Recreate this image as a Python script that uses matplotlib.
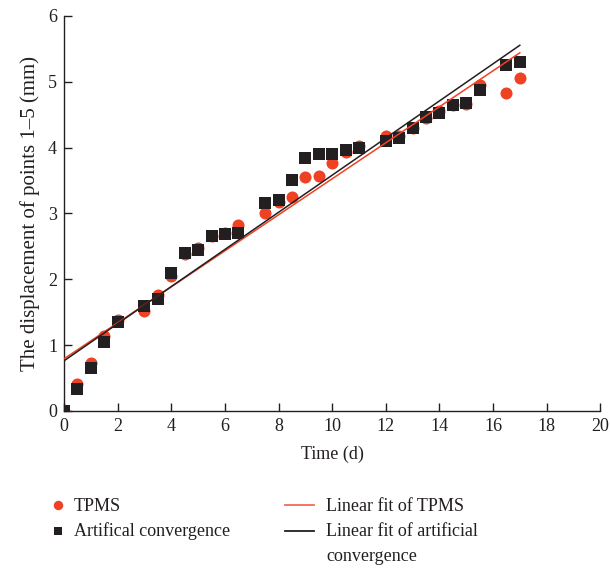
import matplotlib
matplotlib.use("Agg")
import matplotlib.pyplot as plt
from matplotlib.lines import Line2D
import numpy as np

plt.rcParams['font.family'] = ['Liberation Serif', 'DejaVu Serif']

time = [0, 0.5, 1, 1.5, 2, 3, 3.5, 4, 4.5, 5, 5.5, 6, 6.5, 7.5, 8, 8.5, 9, 9.5,
        10, 10.5, 11, 12, 12.5, 13, 13.5, 14, 14.5, 15, 15.5, 16.5, 17]
tpms = [0, 0.40, 0.72, 1.13, 1.38, 1.52, 1.76, 2.05, 2.38, 2.48, 2.65, 2.70, 2.82,
        3.00, 3.18, 3.25, 3.55, 3.57, 3.76, 3.93, 4.02, 4.18, 4.17, 4.30, 4.45,
        4.55, 4.65, 4.66, 4.95, 4.83, 5.05]
artificial = [0, 0.33, 0.65, 1.05, 1.35, 1.60, 1.70, 2.10, 2.40, 2.45, 2.65, 2.68,
              2.70, 3.16, 3.21, 3.50, 3.84, 3.90, 3.90, 3.97, 3.99, 4.10, 4.15,
              4.30, 4.46, 4.52, 4.65, 4.68, 4.87, 5.25, 5.30]
# linear fit coefficients (intercept, slope)
fit_tpms = (0.79, 0.2735)
fit_art = (0.76, 0.282)
fit_range = [0, 17]
labels = ['TPMS', 'Artifical convergence', 'Linear fit of TPMS',
          'Linear fit of artificial\nconvergence']

red = '#ef4123'
black = '#231f20'

W, H = 610, 569
fig = plt.figure(figsize=(W / 100, H / 100), dpi=100)
ax = fig.add_axes([0.105, 0.278, 0.879, 0.694])

ax.scatter(time, tpms, s=75, marker='o', color=red, zorder=3, linewidths=0)
ax.scatter(time, artificial, s=68, marker='s', color=black, zorder=4, linewidths=0)
xf = np.array(fit_range)
ax.plot(xf, fit_tpms[0] + fit_tpms[1] * xf, color=red, lw=1.1, zorder=5)
ax.plot(xf, fit_art[0] + fit_art[1] * xf, color=black, lw=1.1, zorder=5)

ax.set_xlim(0, 20)
ax.set_ylim(0, 6)
ax.set_xticks(range(0, 21, 2))
ax.set_yticks(range(0, 7))
for s in ['top', 'right']:
    ax.spines[s].set_visible(False)
for s in ['left', 'bottom']:
    ax.spines[s].set_color(black)
    ax.spines[s].set_linewidth(1.0)
ax.tick_params(direction='in', length=6, width=1.0, colors=black, labelsize=13, pad=5)
ax.set_xlabel('Time (d)', fontsize=13, color=black, labelpad=8)
ax.set_ylabel('The displacement of points 1–5 (mm)', fontsize=15, color=black, labelpad=6)

# manual legend (figure pixel coordinates)
def fx(px):
    return px / W

def fy(py):
    return 1 - py / H

fig.add_artist(Line2D([fx(58)], [fy(505)], marker='o', ls='none', color=red,
                      markersize=6.8, markeredgewidth=0, transform=fig.transFigure))
fig.add_artist(Line2D([fx(58)], [fy(531)], marker='s', ls='none', color=black,
                      markersize=5.2, markeredgewidth=0, transform=fig.transFigure))
fig.add_artist(Line2D([fx(285), fx(314)], [fy(505), fy(505)], color='#f26b55', lw=1.3,
                      transform=fig.transFigure))
fig.add_artist(Line2D([fx(285), fx(314)], [fy(531), fy(531)], color=black, lw=1.3,
                      transform=fig.transFigure))
fig.text(fx(74), fy(511), labels[0], fontsize=13, color=black, va='baseline')
fig.text(fx(74), fy(536), labels[1], fontsize=13, color=black, va='baseline')
fig.text(fx(326), fy(511), labels[2], fontsize=13, color=black, va='baseline')
l1, l2 = labels[3].split('\n')
fig.text(fx(326), fy(536), l1, fontsize=13, color=black, va='baseline')
fig.text(fx(326), fy(561), l2, fontsize=13, color=black, va='baseline')

fig.savefig('out.png', dpi=100)
